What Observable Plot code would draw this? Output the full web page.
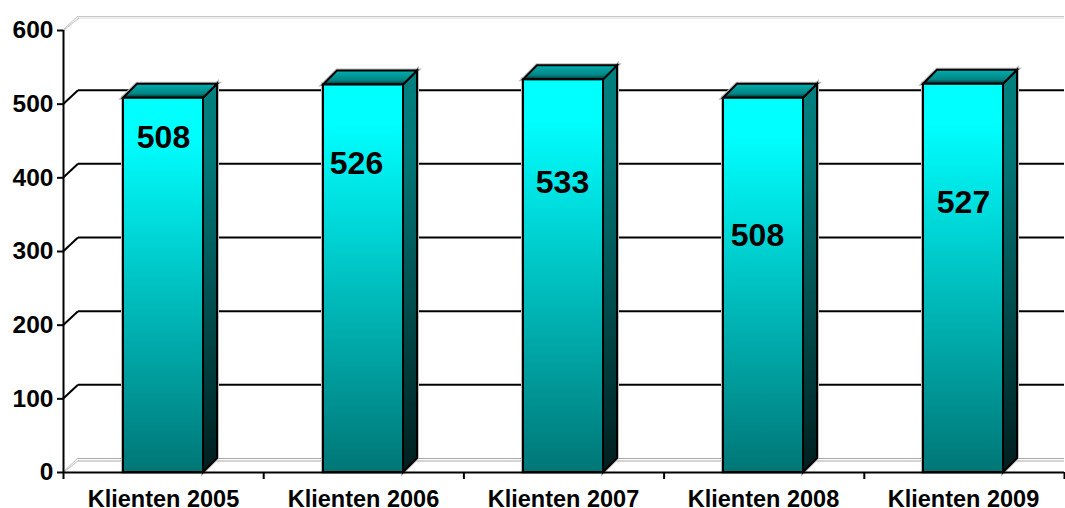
<!DOCTYPE html>
<html>
<head>
<meta charset="utf-8">
<script src="https://cdn.jsdelivr.net/npm/d3@7"></script>
<script src="https://cdn.jsdelivr.net/npm/@observablehq/plot@0.6"></script>
<style>html,body{margin:0;padding:0;background:#fff;overflow:hidden}svg{display:block}</style>
</head>
<body>
<div id="chart"></div>
<script>
const categories = ["Klienten 2005","Klienten 2006","Klienten 2007","Klienten 2008","Klienten 2009"];
const clients = [508,526,533,508,527];
const yTicks = [0,100,200,300,400,500,600];
const gridValues = [100,200,300,400,500];

const rows = categories.map((c,i)=>({category:c,value:clients[i]}));
const depth = 14;
const FONT = "'Liberation Sans',Arial,sans-serif";
// label placement (hand-placed in the original chart): height on the y scale, pixel nudge
const labelSpot = [[454,0],[419,-7],[393,-1],[321,-6],[366,0]];
const labels = rows.map((r,i)=>({...r,at:labelSpot[i][0],nudge:labelSpot[i][1]}));

function grad(id,stops){
  const g=d3.create("svg:linearGradient").attr("id",id).attr("x1",0).attr("y1",0).attr("x2",0).attr("y2",1);
  stops.forEach(([o,c])=>g.append("stop").attr("offset",o).attr("stop-color",c));
  return g.node();
}
const defs=()=>{
  const d=d3.create("svg:defs");
  d.node().append(
    grad("front",[[0,"#00ffff"],[0.1,"#00ffff"],[1,"#007676"]]),
    grad("side",[[0,"#008080"],[0.2,"#007878"],[1,"#001e1e"]]),
    grad("top",[[0,"#00b0b0"],[0.7,"#008484"],[1,"#003030"]])
  );
  return d.node();
};
// turn a bar's rect into a polygon of the 3-D block
function extrude(shape){
  return (index,scales,values,dims,ctx,next)=>{
    const g=next(index,scales,values,dims,ctx);
    d3.select(g).selectAll("rect").each(function(){
      const s=d3.select(this),x=+s.attr("x"),y=+s.attr("y"),w=+s.attr("width"),h=+s.attr("height");
      const p=document.createElementNS("http://www.w3.org/2000/svg","polygon");
      p.setAttribute("points",shape(x,y,w,h).map(q=>q.join(",")).join(" "));
      this.replaceWith(p);
    });
    return g;
  };
}
const sideShape=(x,y,w,h)=>[[x+w,y],[x+w+depth,y-depth],[x+w+depth,y+h-depth],[x+w,y+h]];
const topShape=(x,y,w,h)=>[[x,y],[x+depth,y-depth],[x+w+depth,y-depth],[x+w,y]];
const wallDiagonals=(index,{y},v,{marginLeft})=>{
  const g=d3.create("svg:g");
  const L=marginLeft;
  gridValues.forEach(t=>g.append("line").attr("x1",L).attr("y1",y(t)+.5).attr("x2",L+depth+1).attr("y2",y(t)-depth+.5).attr("stroke","#000").attr("stroke-width",2));
  [600,0].forEach(t=>{
    [0,2].forEach(o=>g.append("line").attr("x1",L+o*0.5).attr("y1",y(t)).attr("x2",L+depth+1+o*0.5).attr("y2",y(t)-depth+o).attr("stroke","#bdbdbd").attr("stroke-width",1));
  });
  return g.node();
};
const axisFrame=(index,scales,v,{width,marginLeft,marginRight,marginTop,height,marginBottom})=>{
  const g=d3.create("svg:g").attr("stroke","#000").attr("stroke-width",2);
  const step=(width-marginLeft-marginRight)/categories.length;
  const base=height-marginBottom;
  g.append("line").attr("x1",marginLeft+.5).attr("x2",marginLeft+.5).attr("y1",marginTop).attr("y2",base);
  d3.range(categories.length+1).forEach(i=>g.append("line").attr("x1",marginLeft+i*step+.5).attr("x2",marginLeft+i*step+.5).attr("y1",base).attr("y2",base+7));
  return g.node();
};
const haloOpts={x:"category",y:"value",fill:"none",stroke:"#bdbdbd",strokeWidth:4};

const chart = Plot.plot({
  width:1065,height:508,
  marginLeft:63,marginRight:1,marginTop:30,marginBottom:36,
  style:{background:"#fff",fontFamily:FONT},
  x:{type:"band",domain:categories,paddingInner:0.6,paddingOuter:0.3,align:0.5,label:null},
  y:{domain:[0,600],label:null},
  marks:[
    defs,
    // back wall: grey edges
    Plot.ruleY([600],{dy:-depth,insetLeft:depth+1,stroke:"#c8c8c8",strokeWidth:1}),
    Plot.ruleY([600],{dy:-depth+1.5,insetLeft:depth+1,stroke:"#d8d8d8",strokeWidth:1}),
    Plot.ruleY([0],{dy:-depth,insetLeft:depth+1,stroke:"#a8a8a8",strokeWidth:1}),
    Plot.ruleY([0],{dy:-depth+2.5,insetLeft:depth+1,stroke:"#a8a8a8",strokeWidth:1}),
    Plot.ruleY(gridValues,{dy:-depth,insetLeft:depth+1,stroke:"#000",strokeWidth:2}),
    wallDiagonals,
    // soft grey edge round each block
    Plot.barY(rows,{...haloOpts,render:extrude(sideShape)}),
    Plot.barY(rows,{...haloOpts,render:extrude(topShape)}),
    Plot.barY(rows,haloOpts),
    // side faces
    Plot.barY(rows,{x:"category",y:"value",fill:"url(#side)",stroke:"#000",strokeWidth:2,render:extrude(sideShape)}),
    // top faces
    Plot.barY(rows,{x:"category",y:"value",fill:"url(#top)",stroke:"#000",strokeWidth:2,render:extrude(topShape)}),
    // front faces
    Plot.barY(rows,{x:"category",y:"value",fill:"url(#front)",stroke:"#000",strokeWidth:2}),
    // axes
    Plot.axisY({ticks:yTicks,tickSize:6,tickPadding:4,tickFormat:d=>String(d),fontSize:24.5,fontWeight:"bold",fill:"#000",stroke:"#000",strokeWidth:2,strokeOpacity:1}),
    Plot.ruleY([0],{stroke:"#000",strokeWidth:2}),
    Plot.axisX({tickSize:0,tickPadding:18,fontSize:23.5,fontWeight:"bold",fill:"#000"}),
    axisFrame,
    ...labels.map(l=>Plot.text([l],{x:"category",y:"at",dx:l.nudge,text:d=>String(d.value),fontSize:32,fontWeight:"bold",fill:"#000"}))
  ]
});
document.getElementById("chart").append(chart);
</script>
</body>
</html>
